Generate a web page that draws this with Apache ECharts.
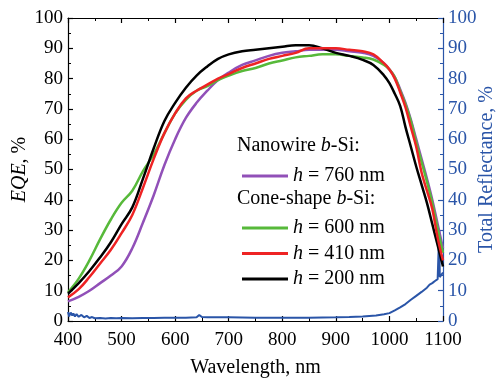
<!DOCTYPE html>
<html>
<head>
<meta charset="utf-8">
<script src="https://cdn.jsdelivr.net/npm/echarts@6/dist/echarts.min.js"></script>
<style>
html,body{margin:0;padding:0;background:#fff;}
#chart{width:497px;height:379px;}
</style>
</head>
<body>
<div id="chart"></div>
<script>
// EQE wavelengths (nm)
var wavelengths = [400,420,440,460,480,500,520,540,560,580,600,620,640,660,680,700,725,750,775,800,825,850,875,900,925,950,970,990,1000,1010,1020,1030,1040,1050,1060,1070,1080,1090,1100];
// EQE series (%)
var eqe760 = [6.5,8,10,12.5,15,18,24,32.5,41.5,51.5,60,67,72,76,79.5,82,84.5,86,87.5,88.5,89,89.5,89.5,89.5,89,88.5,87.5,85,83,80.5,76.5,72,66.5,60,53.5,47,40,32,24];
var eqe600 = [9.5,14,20,27,33.5,39,43,49.5,55,62,68.5,73,76,77.5,79.5,81,82.5,83.5,85,86,87,87.5,88,88,87.5,87,86.3,84.5,83,80.5,76,71.5,66,59,52.5,46,39,30.5,22.5];
var eqe410 = [7.8,10.5,14.5,19,23.5,29,35,44,53.5,62,68.5,73.5,76,78,80,81.5,83.5,85,86.5,87.5,88.5,90,90,90,89.5,89,88,85,83,80,75.5,70.5,64,57.5,49,43,37,27.5,20];
var eqe200 = [9,12.5,16.5,21,26,32,37.5,47,57,66,72,77,81,84,86.5,88,89,89.5,90,90.5,91,91,90,88.5,87.5,86.2,84.5,81,78.5,75,71,64,57.5,51,45,39,32,25,18];
// Total reflectance (%)
var reflWl = [400,402,405,408,410,413,416,420,425,430,435,440,445,450,460,470,480,490,500,520,540,560,580,600,620,640,645,650,660,700,750,800,850,900,925,950,975,990,1000,1010,1020,1030,1040,1050,1060,1070,1075,1078,1080,1085,1090,1092,1093,1094,1096,1100];
var reflVal = [3,1.5,2.8,1.8,2.5,1.5,2.3,1.4,2,1.2,1.7,1,1.3,0.9,1,0.8,1,0.9,1,0.9,1,1,1.1,1.1,1.1,1.2,2,1.3,1.2,1.2,1.1,1.1,1.1,1.2,1.3,1.5,1.8,2.2,2.6,3.5,4.5,5.6,7,8.3,9.6,11,12,11.4,12.5,13.2,13.8,14.2,30,14.5,15,16];
var seriesNames = ['h = 760 nm','h = 600 nm','h = 410 nm','h = 200 nm'];

function pairs(xs, ys){ return xs.map(function(x,i){ return [x, ys[i]]; }); }

var FONT = 'Liberation Serif';
var BLUE = '#2a55a8';
var colors = {'h = 760 nm':'#9150b8','h = 600 nm':'#57b93a','h = 410 nm':'#ee2324','h = 200 nm':'#000000'};

var legendText = {
  fontFamily: FONT, fontSize: 20, color:'#000', lineHeight: 20,
  rich: { i:{fontStyle:'italic', fontFamily:FONT, fontSize:20, color:'#000'}, n:{fontFamily:FONT, fontSize:20, color:'#000'} }
};
function legendFmt(name){ return name.replace(/^h/, '{i|h}{n|').replace(/$/, '}'); }
function plain(v){ return String(v); }

var chart = echarts.init(document.getElementById('chart'), null, {renderer:'canvas'});
var xCommon = {
  type:'value', min:400, max:1100, interval:100,
  axisLine:{show:true, onZero:false, lineStyle:{color:'#000', width:1.2}},
  axisTick:{show:true, inside:true, length:5, lineStyle:{color:'#000', width:1.2}},
  minorTick:{show:true, splitNumber:2, length:3, lineStyle:{color:'#000', width:1}},
  splitLine:{show:false}, minorSplitLine:{show:false}
};
var option = {
  animation:false,
  backgroundColor:'#fff',
  grid:{left:68, right:54, top:18, bottom:58, containLabel:false, outerBoundsMode:'none'},
  xAxis:[
    Object.assign({}, xCommon, {position:'bottom',
      axisLabel:{show:true, fontFamily:FONT, fontSize:19, color:'#000', margin:10, formatter:plain},
      name:'Wavelength, nm', nameLocation:'middle', nameGap:37, nameMoveOverlap:false,
      nameTextStyle:{fontFamily:FONT, fontSize:20, color:'#000'}}),
    Object.assign({}, xCommon, {position:'top', axisLabel:{show:false}})
  ],
  yAxis:[
    {type:'value', min:0, max:100, interval:10, position:'left',
     axisLine:{show:true, lineStyle:{color:'#000', width:1.2}},
     axisTick:{show:true, inside:true, length:5, lineStyle:{color:'#000', width:1.2}},
     minorTick:{show:true, splitNumber:2, length:3, lineStyle:{color:'#000', width:1}},
     splitLine:{show:false},
     axisLabel:{fontFamily:FONT, fontSize:19, color:'#000', margin:5, formatter:plain},
     name:'{i|EQE}{n|, %}', nameLocation:'middle', nameGap:38, nameMoveOverlap:false,
     nameTextStyle:{fontFamily:FONT, fontSize:20, color:'#000',
       rich:{i:{fontStyle:'italic', fontFamily:FONT, fontSize:20, color:'#000'}, n:{fontFamily:FONT, fontSize:20, color:'#000'}}}},
    {type:'value', min:0, max:100, interval:10, position:'right',
     axisLine:{show:true, lineStyle:{color:BLUE, width:1.2}},
     axisTick:{show:true, inside:true, length:5, lineStyle:{color:BLUE, width:1.2}},
     minorTick:{show:true, splitNumber:2, length:3, lineStyle:{color:BLUE, width:1}},
     splitLine:{show:false},
     axisLabel:{fontFamily:FONT, fontSize:19, color:BLUE, margin:5, formatter:plain},
     name:'Total Reflectance, %', nameLocation:'middle', nameGap:34, nameRotate:90, nameMoveOverlap:false,
     nameTextStyle:{fontFamily:FONT, fontSize:20, color:BLUE}}
  ],
  legend:[
    {data:['h = 760 nm'], left:237, top:161, orient:'vertical', icon:'rect', itemWidth:46, itemHeight:3, itemGap:5,
     textStyle:legendText, formatter:legendFmt},
    {data:['h = 600 nm','h = 410 nm','h = 200 nm'], left:237, top:213, orient:'vertical', icon:'rect', itemWidth:46, itemHeight:3, itemGap:5.5,
     textStyle:legendText, formatter:legendFmt}
  ],
  graphic:[
    {type:'text', left:237, top:136, style:{text:'{n|Nanowire }{i|b}{n|-Si:}', font:'20px "Liberation Serif"', fill:'#000',
      rich:{i:{fontStyle:'italic', fontFamily:FONT, fontSize:20, fill:'#000'}, n:{fontFamily:FONT, fontSize:20, fill:'#000'}}}},
    {type:'text', left:237, top:189, style:{text:'{n|Cone-shape }{i|b}{n|-Si:}', font:'20px "Liberation Serif"', fill:'#000',
      rich:{i:{fontStyle:'italic', fontFamily:FONT, fontSize:20, fill:'#000'}, n:{fontFamily:FONT, fontSize:20, fill:'#000'}}}}
  ],
  series:[
    {name:'Reflectance', type:'line', yAxisIndex:1, xAxisIndex:0, data:pairs(reflWl, reflVal), showSymbol:false, symbol:'none',
     lineStyle:{color:BLUE, width:2}, itemStyle:{color:BLUE}, z:2},
    {name:seriesNames[0], type:'line', data:pairs(wavelengths, eqe760), symbol:'none', smooth:0.4,
     lineStyle:{color:colors[seriesNames[0]], width:2.5}, itemStyle:{color:colors[seriesNames[0]]}, z:3},
    {name:seriesNames[1], type:'line', data:pairs(wavelengths, eqe600), symbol:'none', smooth:0.4,
     lineStyle:{color:colors[seriesNames[1]], width:2.5}, itemStyle:{color:colors[seriesNames[1]]}, z:4},
    {name:seriesNames[3], type:'line', data:pairs(wavelengths, eqe200), symbol:'none', smooth:0.4,
     lineStyle:{color:colors[seriesNames[3]], width:2.5}, itemStyle:{color:colors[seriesNames[3]]}, z:5},
    {name:seriesNames[2], type:'line', data:pairs(wavelengths, eqe410), symbol:'none', smooth:0.4,
     lineStyle:{color:colors[seriesNames[2]], width:2.5}, itemStyle:{color:colors[seriesNames[2]]}, z:6}
  ]
};
chart.setOption(option);
</script>
</body>
</html>
